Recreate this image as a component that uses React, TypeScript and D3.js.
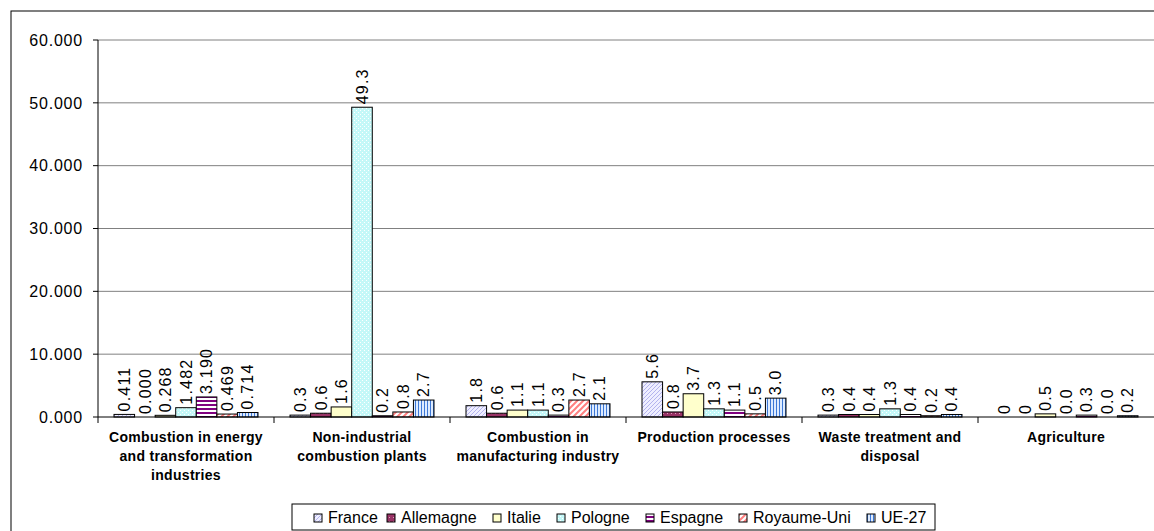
import React from "react";
import * as d3 from "d3";

const categories = [
  "Combustion in energy\nand transformation\nindustries",
  "Non-industrial\ncombustion plants",
  "Combustion in\nmanufacturing industry",
  "Production processes",
  "Waste treatment and\ndisposal",
  "Agriculture",
];

const seriesNames = ["France", "Allemagne", "Italie", "Pologne", "Espagne", "Royaume-Uni", "UE-27"];

const france = [0.411, 0.3, 1.8, 5.6, 0.3, 0];
const allemagne = [0.0, 0.6, 0.6, 0.8, 0.4, 0];
const italie = [0.268, 1.6, 1.1, 3.7, 0.4, 0.5];
const pologne = [1.482, 49.3, 1.1, 1.3, 1.3, 0.0];
const espagne = [3.19, 0.2, 0.3, 1.1, 0.4, 0.3];
const royaumeUni = [0.469, 0.8, 2.7, 0.5, 0.2, 0.0];
const ue27 = [0.714, 2.7, 2.1, 3.0, 0.4, 0.2];

const franceLabels = ["0.411", "0.3", "1.8", "5.6", "0.3", "0"];
const allemagneLabels = ["0.000", "0.6", "0.6", "0.8", "0.4", "0"];
const italieLabels = ["0.268", "1.6", "1.1", "3.7", "0.4", "0.5"];
const pologneLabels = ["1.482", "49.3", "1.1", "1.3", "1.3", "0.0"];
const espagneLabels = ["3.190", "0.2", "0.3", "1.1", "0.4", "0.3"];
const royaumeUniLabels = ["0.469", "0.8", "2.7", "0.5", "0.2", "0.0"];
const ue27Labels = ["0.714", "2.7", "2.1", "3.0", "0.4", "0.2"];

const yTicks = [0, 10, 20, 30, 40, 50, 60];

const seriesValues = [france, allemagne, italie, pologne, espagne, royaumeUni, ue27];
const seriesLabels = [franceLabels, allemagneLabels, italieLabels, pologneLabels, espagneLabels, royaumeUniLabels, ue27Labels];

const FONT = "'Liberation Sans', Arial, sans-serif";

export default function App() {
  const W = 1154;
  const H = 531;
  const left = 98;
  const right = 1154;
  const top = 40;
  const bottom = 417;

  const x0 = d3.scaleBand<string>().domain(categories).range([left, right]).padding(0);
  const bw = x0.bandwidth();
  const x1 = d3.scaleBand<string>().domain(seriesNames).range([16, bw - 16]).padding(0);
  const y = d3.scaleLinear().domain([0, 60]).range([bottom, top]);
  const fmt = d3.format(".3f");

  const fills = [
    "url(#pFrance)",
    "url(#pAllemagne)",
    "#FFFFCC",
    "url(#pPologne)",
    "url(#pEspagne)",
    "url(#pRU)",
    "url(#pUE)",
  ];

  const legendX = [314, 387, 493, 557, 646, 739, 867];

  return (
    <svg
      width={W}
      height={H}
      style={{ position: "absolute", left: 0, top: 0, background: "#fff" }}
      fontFamily={FONT}
    >
      <defs>
        <pattern id="pFrance" width="4" height="4" patternUnits="userSpaceOnUse">
          <rect width="4" height="4" fill="#EEEEFF" />
          <path d="M0,4 L4,0 M-1,1 L1,-1 M3,5 L5,3" stroke="#9999E6" strokeWidth="0.7" />
        </pattern>
        <pattern id="pAllemagne" width="4" height="4" patternUnits="userSpaceOnUse">
          <rect width="4" height="4" fill="#993366" />
          <rect x="1" y="1" width="1" height="1" fill="#D9A0BC" />
        </pattern>
        <pattern id="pPologne" width="4" height="4" patternUnits="userSpaceOnUse">
          <rect width="4" height="4" fill="#C4F8F8" />
          <rect x="0" y="0" width="1" height="1" fill="#ffffff" />
          <rect x="2" y="2" width="1" height="1" fill="#ffffff" />
        </pattern>
        <pattern id="pEspagne" width="4" height="4" patternUnits="userSpaceOnUse">
          <rect width="4" height="4" fill="#ffffff" />
          <rect y="0" width="4" height="2" fill="#800080" />
        </pattern>
        <pattern id="pRU" width="6" height="6" patternUnits="userSpaceOnUse">
          <rect width="6" height="6" fill="#ffffff" />
          <path d="M0,6 L6,0 M-1.5,1.5 L1.5,-1.5 M4.5,7.5 L7.5,4.5" stroke="#FF8080" strokeWidth="2" />
        </pattern>
        <pattern id="pUE" width="3" height="3" patternUnits="userSpaceOnUse">
          <rect width="3" height="3" fill="#DDEBFF" />
          <rect x="0" width="1" height="3" fill="#3D78D6" />
        </pattern>
      </defs>

      {/* outer frame */}
      <rect x={11} y={11} width={1200} height={600} fill="#fff" stroke="#000" strokeWidth={1} />

      {/* gridlines */}
      {yTicks.slice(1).map((t) => (
        <line key={"g" + t} x1={left} x2={right} y1={y(t)} y2={y(t)} stroke="#808080" strokeWidth={1} />
      ))}

      {/* y axis */}
      <line x1={left} x2={left} y1={top} y2={bottom} stroke="#000" />
      {yTicks.map((t) => (
        <g key={"t" + t}>
          <line x1={left - 5} x2={left} y1={y(t)} y2={y(t)} stroke="#000" />
          <text x={83} y={y(t)} dy="0.36em" textAnchor="end" fontSize={16} letterSpacing={0.8} fill="#000">
            {fmt(t)}
          </text>
        </g>
      ))}

      {/* bars */}
      {categories.map((c, ci) => (
        <g key={"c" + ci} transform={`translate(${x0(c)},0)`}>
          {seriesNames.map((s, si) => {
            const v = seriesValues[si][ci];
            const bx = x1(s)!;
            const bwid = x1.bandwidth();
            return (
              <g key={s}>
                {v > 0 && (
                  <rect
                    x={bx}
                    y={y(v)}
                    width={bwid}
                    height={y(0) - y(v)}
                    fill={fills[si]}
                    stroke="#000"
                    strokeWidth={1}
                  />
                )}
                <text
                  transform={`translate(${bx + bwid / 2},${y(v) - 3}) rotate(-90)`}
                  dy="0.36em"
                  textAnchor="start"
                  fontSize={16}
                  letterSpacing={1.2}
                  fill="#000"
                >
                  {seriesLabels[si][ci]}
                </text>
              </g>
            );
          })}
        </g>
      ))}

      {/* x axis */}
      <line x1={left} x2={right} y1={bottom} y2={bottom} stroke="#000" />
      {categories.map((c, ci) => (
        <line key={"xt" + ci} x1={x0(c)!} x2={x0(c)!} y1={bottom} y2={bottom + 6} stroke="#000" />
      ))}
      {categories.map((c, ci) => (
        <text
          key={"xl" + ci}
          x={x0(c)! + bw / 2}
          y={442}
          textAnchor="middle"
          fontSize={14}
          fontWeight="bold"
          letterSpacing={0.3}
          fill="#000"
        >
          {c.split("\n").map((ln, li) => (
            <tspan key={li} x={x0(c)! + bw / 2} dy={li === 0 ? 0 : 19}>
              {ln}
            </tspan>
          ))}
        </text>
      ))}

      {/* legend */}
      <rect x={292} y={504} width={643} height={26} fill="#fff" stroke="#000" strokeWidth={1} />
      {seriesNames.map((s, si) => (
        <g key={"lg" + s}>
          <rect x={legendX[si]} y={514} width={8} height={8} fill={fills[si]} stroke="#000" strokeWidth={1} />
          <text x={legendX[si] + 14} y={523} fontSize={16} fill="#000">
            {s}
          </text>
        </g>
      ))}
    </svg>
  );
}
